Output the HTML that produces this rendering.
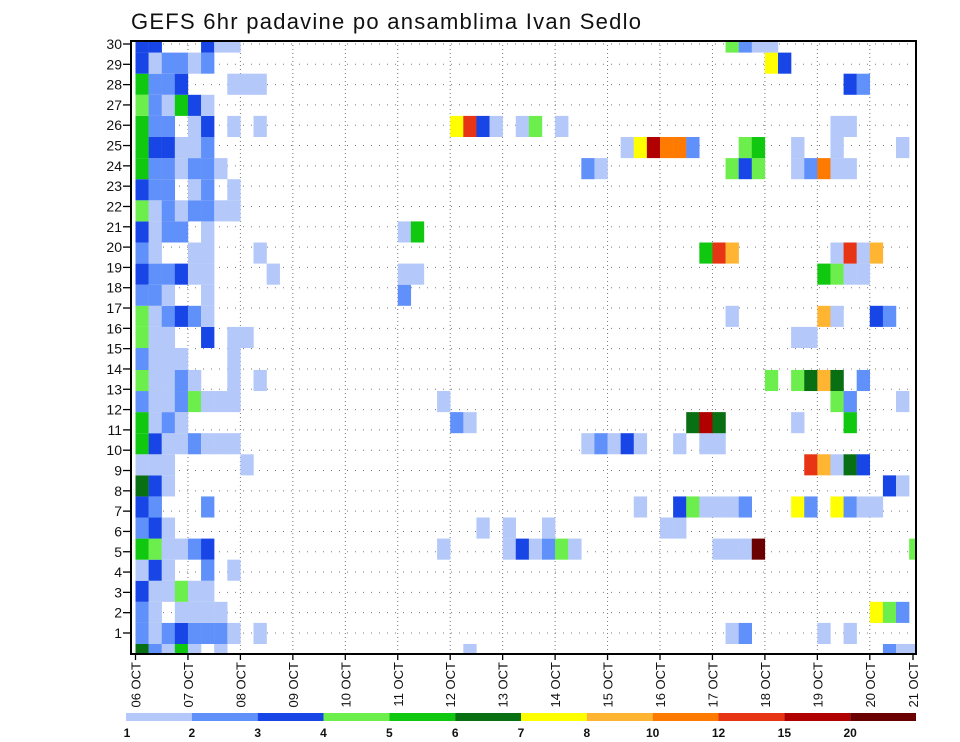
<!DOCTYPE html>
<html><head><meta charset="utf-8"><style>
html,body{margin:0;padding:0;background:#fff;}
svg{display:block;font-family:"Liberation Sans",sans-serif;}
</style></head><body>
<svg id="chart" width="960" height="742" viewBox="0 0 960 742" xmlns="http://www.w3.org/2000/svg">
<rect x="0" y="0" width="960" height="742" fill="#fff"/>
<text x="131" y="29" font-size="22" fill="#111" textLength="510" lengthAdjust="spacing">GEFS 6hr padavine po ansamblima Ivan Sedlo</text>
<defs><clipPath id="plotclip"><rect x="131" y="41" width="785" height="613"/></clipPath></defs>
<g id="grid"></g>
<g id="cells" clip-path="url(#plotclip)"></g>
<rect x="131" y="41" width="785" height="613" fill="none" stroke="#000" stroke-width="2"/>
<g id="yaxis"></g>
<g id="xaxis"></g>
<g id="colorbar"></g>
</svg>
<script>
// ---- data ----
const dayLabels = ["06 OCT","07 OCT","08 OCT","09 OCT","10 OCT","11 OCT","12 OCT","13 OCT","14 OCT","15 OCT","16 OCT","17 OCT","18 OCT","19 OCT","20 OCT","21 OCT"];
const memberLabels = [1,2,3,4,5,6,7,8,9,10,11,12,13,14,15,16,17,18,19,20,21,22,23,24,25,26,27,28,29,30];
const levelLabels = ["1","2","3","4","5","6","7","8","10","12","15","20"];
const levelColors = ["#b4c8fa","#6090fa","#1846e6","#6cee4c","#10c810","#087012","#ffff00","#ffb432","#ff7a00","#e63414","#b00000","#6a0000"];
const levelCodes = "123456789abc";
// per member (index = member number): "leading columns from col 0 | col:code,..."
const member0 = "62151.1|25:1,57:2,58:1,59:1";
const member1 = "21232221.1|45:1,46:2,52:1,54:1";
const member2 = "21.1111|56:7,57:4,58:2";
const member3 = "311411|";
const member4 = "131..2.1|";
const member5 = "541123|23:1,28:1,29:3,30:1,31:2,32:4,33:1,44:1,45:1,46:1,47:c,59:4";
const member6 = "231|26:1,28:1,31:1,40:1,41:1";
const member7 = "32...2|38:1,41:3,42:4,43:1,44:1,45:1,46:2,50:7,51:2,53:7,54:2,55:1,56:1";
const member8 = "631|57:3,58:1";
const member9 = "111.....1|51:a,52:8,53:1,54:6,55:3";
const member10 = "53112111|34:1,35:2,36:1,37:3,38:1,41:1,43:1,44:1";
const member11 = "5121|24:2,25:1,42:6,43:b,44:6,50:1,54:5";
const member12 = "21124111|23:1,53:4,54:2,58:1";
const member13 = "41121..1.1|48:4,50:4,51:6,52:8,53:6,55:2";
const member14 = "|";
const member15 = "2111...1|";
const member16 = "411..3.11|50:1,51:1";
const member17 = "412321|45:1,52:8,53:1,56:3,57:2";
const member18 = "221..1|20:2";
const member19 = "322311....1|20:1,21:1,52:5,53:4,54:1,55:1";
const member20 = "21..11...1|43:5,44:a,45:8,53:1,54:a,55:1,56:8";
const member21 = "3122.1|20:1,21:5";
const member22 = "41212211|";
const member23 = "322.12.1|";
const member24 = "5221221|34:2,35:1,45:4,46:3,47:4,50:1,51:2,52:9,53:1,54:1";
const member25 = "533112|37:1,38:7,39:b,40:9,41:9,42:2,46:4,47:5,50:1,53:1,58:1";
const member26 = "522.13.1.1|24:7,25:a,26:3,27:1,29:1,30:4,32:1,53:1,54:1";
const member27 = "421531|";
const member28 = "5223...111|54:3,55:2";
const member29 = "312212|48:7,49:3";
const member30 = "33...311|45:4,46:2,47:1,48:1";
const memberRows = [member0,member1,member2,member3,member4,member5,member6,member7,member8,member9,member10,member11,member12,member13,member14,member15,member16,member17,member18,member19,member20,member21,member22,member23,member24,member25,member26,member27,member28,member29,member30];

// ---- scales ----
const NS="http://www.w3.org/2000/svg";
const X0=135.5, DAYW=52.45, COLW=DAYW/4, PL=131, PR=916, PT=41, PB=654;
function xCol(c){return X0+c*COLW;}
function xDay(d){return X0+d*DAYW;}
function labelY(k){return 44+(30-k)*20.31;}
function rowBand(m){
  if(m<=13){const t=644-21.08*m;return [t,t+21.08];}
  if(m===14){return [370,370];}
  if(m===15){return [348,370];}
  const b=348-21.1*(m-16);return [b-21.1,b];
}
function mk(tag,attrs,parent){const e=document.createElementNS(NS,tag);for(const k in attrs)e.setAttribute(k,attrs[k]);parent.appendChild(e);return e;}
function parseRow(s){
  const out=[];const parts=s.split("|");
  for(let i=0;i<parts[0].length;i++){const ch=parts[0][i];if(ch!=='.')out.push([i,ch]);}
  if(parts[1]){parts[1].split(",").forEach(t=>{if(!t)return;const p=t.split(":");out.push([+p[0],p[1]]);});}
  return out;
}

// grid
const grid=document.getElementById('grid');
for(let d=1;d<15;d++){
  const l=mk('line',{x1:xDay(d),x2:xDay(d),y1:PT,y2:PB,stroke:'#777','stroke-width':1,'stroke-dasharray':'1 3'},grid);
  
  
}
memberLabels.forEach(k=>{
  const l=mk('line',{x1:PL,x2:PR,y1:labelY(k),y2:labelY(k),stroke:'#777','stroke-width':1,'stroke-dasharray':'1 7'},grid);
  
  
});

// cells
const cg=document.getElementById('cells');
memberRows.forEach((s,m)=>{
  const band=rowBand(m);
  if(band[1]<=band[0])return;
  parseRow(s).forEach(([c,code])=>{
    const li=levelCodes.indexOf(code);
    if(li<0)return;
    const r=mk('rect',{x:xCol(c),y:band[0],width:COLW+0.2,height:band[1]-band[0],fill:levelColors[li]},cg);
    
    
  });
});

// y axis
const ya=document.getElementById('yaxis');
memberLabels.forEach(k=>{
  const y=labelY(k);
  const t=mk('line',{x1:PL-8,x2:PL,y1:y,y2:y,stroke:'#000','stroke-width':1.3},ya);
  
  
  const tx=mk('text',{x:PL-9,y:y+5,'font-size':14,'text-anchor':'end',fill:'#111'},ya);
  tx.textContent=k;
  
  
});

// x axis
const xa=document.getElementById('xaxis');
dayLabels.forEach((lab,d)=>{
  const x=Math.min(xDay(d),PR-3);
  const t=mk('line',{x1:x,x2:x,y1:PB,y2:PB+6,stroke:'#000','stroke-width':1.3},xa);
  
  
  const tx=mk('text',{transform:'translate('+(x+5)+','+(PB+8)+') rotate(-90)','font-size':13,'text-anchor':'end',fill:'#111'},xa);
  tx.textContent=lab;
  
  
});

// colorbar
const cb=document.getElementById('colorbar');
const CB0=126, CBW=(916-126)/levelColors.length;
levelColors.forEach((col,i)=>{
  const r=mk('rect',{x:CB0+i*CBW,y:713,width:CBW,height:8,fill:col},cb);
  
  
});
levelLabels.forEach((lab,i)=>{
  const tx=mk('text',{x:CB0+i*CBW+(i===0?1:0),y:737,'font-size':12,'font-weight':'bold','text-anchor':'middle',fill:'#111'},cb);
  tx.textContent=lab;
  
  
});
</script>
</body></html>
